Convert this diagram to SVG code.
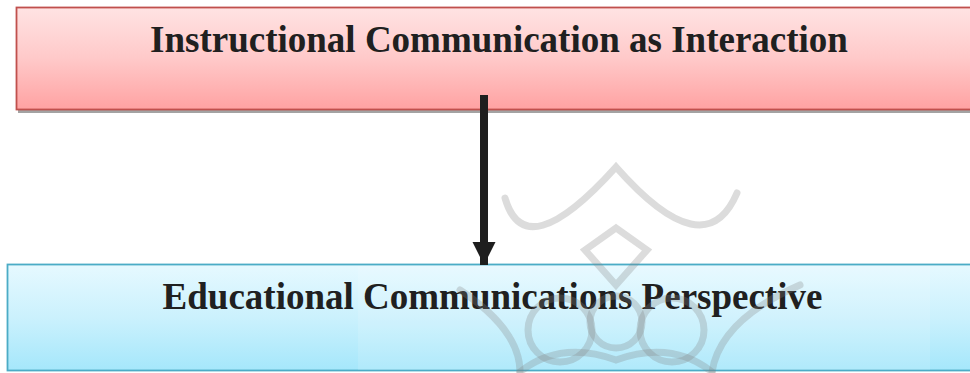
<svg xmlns="http://www.w3.org/2000/svg" width="970" height="373" viewBox="0 0 970 373">
<defs>
<linearGradient id="gRed" x1="0" y1="0" x2="0" y2="1">
<stop offset="0" stop-color="#ffe3e3"/>
<stop offset="0.5" stop-color="#ffc9c9"/>
<stop offset="1" stop-color="#ffa2a2"/>
</linearGradient>
<linearGradient id="gBlue" x1="0" y1="0" x2="0" y2="1">
<stop offset="0" stop-color="#e6f9ff"/>
<stop offset="0.5" stop-color="#cbf1fd"/>
<stop offset="1" stop-color="#a5e7fb"/>
</linearGradient>
<marker id="arrow" markerUnits="userSpaceOnUse" markerWidth="24" markerHeight="24" refX="23" refY="12" orient="auto">
<path d="M0,0.5 L23,12 L0,23.5 Z" fill="#1e1e1e"/>
</marker>
<style>
.label{font-family:"Liberation Serif","Times New Roman",serif;font-weight:bold;font-size:37px;fill:#202020;text-anchor:middle}
.wm{fill:none;stroke:#808080;stroke-opacity:0.28;stroke-width:7;stroke-linecap:round}
</style>
</defs>
<rect width="970" height="373" fill="#ffffff"/>
<g id="node-top">
<rect x="18" y="10" width="960" height="103" fill="#a3a3a3"/>
<rect x="16.5" y="7.5" width="960" height="102" fill="url(#gRed)" stroke="#c0504d" stroke-width="1.8"/>
<text class="label" x="499" y="52">Instructional Communication as Interaction</text>
</g>
<g id="node-bottom">
<rect x="7.5" y="264.5" width="970" height="106" fill="url(#gBlue)" stroke="#4bacc6" stroke-width="1.8"/>
<rect x="358" y="266" width="572" height="104" fill="#ffffff" fill-opacity="0.12"/>
<text class="label" x="492.5" y="309">Educational Communications Perspective</text>
</g>
<g id="watermark">
<path class="wm" d="M505,198 Q525,268 616,167 Q705,268 737,193"/>
<path class="wm" d="M585,250 L616,228 L647,250 L616,285 Z"/>
<circle class="wm" cx="560" cy="330" r="32"/>
<circle class="wm" cx="672" cy="330" r="32"/>
<circle class="wm" cx="616" cy="322" r="26"/>
<path class="wm" d="M460,290 Q520,330 520,372"/>
<path class="wm" d="M800,285 Q720,320 712,372"/>
<path class="wm" d="M520,372 Q560,340 616,360 Q672,340 712,372"/>
</g>
<g id="connectors">
<line x1="484" y1="95" x2="484" y2="265" stroke="#1e1e1e" stroke-width="8" marker-end="url(#arrow)"/>
</g>
</svg>
